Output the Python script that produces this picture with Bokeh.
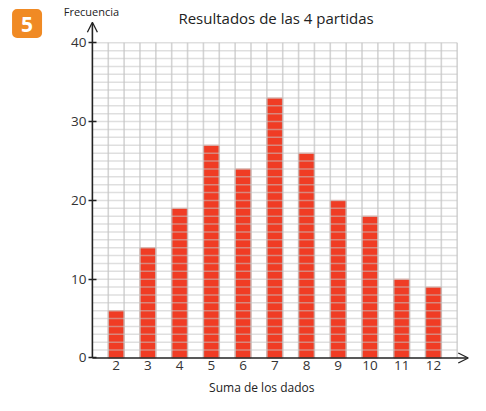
from bokeh.plotting import figure
from bokeh.embed import file_html
from bokeh.resources import INLINE
from bokeh.models import (LinearAxis, FixedTicker, Range1d, Arrow, OpenHead)
from bokeh.core.properties import value

# ---- data ----
sums = ["2", "3", "4", "5", "6", "7", "8", "9", "10", "11", "12"]
freq = [6, 14, 19, 27, 24, 33, 26, 20, 18, 10, 9]
y_ticks = [0, 10, 20, 30, 40]
title_text = "Resultados de las 4 partidas"
x_title = "Suma de los dados"
y_title = "Frecuencia"
badge = "5"

FONT = "Open Sans"
W, H = 470, 395

p = figure(width=W, height=H, output_backend="svg", toolbar_location=None,
           x_range=Range1d(-2.897, 11.92), y_range=Range1d(-4.76, 45.37),
           min_border=0, x_axis_type=None, y_axis_type=None)
p.outline_line_color = None
p.xgrid.visible = False
p.ygrid.visible = False
p.background_fill_color = "white"

n = len(sums)
xs = [0.75 + i for i in range(n)]
gx_end = n + 0.5
gy_end = 40

# bars
p.vbar(x=xs, top=freq, bottom=0, width=0.5, fill_color="#f03c24",
       line_color="#e89a8c", line_width=1)

# grid over bars
vx = [0.5 * k for k in range(1, int(gx_end * 2) + 1)]
p.segment(x0=vx, y0=[0] * len(vx), x1=vx, y1=[gy_end] * len(vx),
          line_color="#bdbdbd", line_alpha=0.65, line_width=1.6)
hy = list(range(1, gy_end + 1))
p.segment(x0=[0] * len(hy), y0=hy, x1=[gx_end] * len(hy), y1=hy,
          line_color="#c4c4c4", line_alpha=0.55, line_width=1.5)

# axes
xaxis = LinearAxis(fixed_location=0)
xaxis.ticker = FixedTicker(ticks=xs)
xaxis.major_label_overrides = {x: s for x, s in zip(xs, sums)}
xaxis.major_tick_in = 0
xaxis.major_tick_out = 0
xaxis.minor_tick_out = 0
xaxis.minor_tick_in = 0
xaxis.axis_line_color = None
xaxis.major_label_text_font = FONT
xaxis.major_label_text_font_size = "13.5px"
xaxis.major_label_text_color = "#333333"
xaxis.major_label_standoff = 3
p.add_layout(xaxis, "below")

yaxis = LinearAxis(fixed_location=0)
yaxis.ticker = FixedTicker(ticks=y_ticks)
yaxis.major_tick_in = 4
yaxis.major_tick_out = 4
yaxis.major_tick_line_color = "#222222"
yaxis.major_tick_line_width = 1.3
yaxis.minor_tick_out = 0
yaxis.minor_tick_in = 0
yaxis.axis_line_color = None
yaxis.major_label_text_font = FONT
yaxis.major_label_text_font_size = "13.5px"
yaxis.major_label_text_color = "#333333"
yaxis.major_label_standoff = 2
p.add_layout(yaxis, "left")

# axis lines with arrows
p.add_layout(Arrow(end=OpenHead(size=10, line_color="#222222", line_width=1.3),
                   x_start=0, y_start=0, x_end=11.85, y_end=0,
                   line_color="#222222", line_width=1.6))
p.add_layout(Arrow(end=OpenHead(size=10, line_color="#222222", line_width=1.3),
                   x_start=0, y_start=0, x_end=0, y_end=42.6,
                   line_color="#222222", line_width=1.6))

# texts
p.text(x=[5.79], y=[43.17], text=[title_text], text_font=value(FONT),
       text_font_size="15px", text_color="#222222",
       text_align="center", text_baseline="middle")
p.text(x=[5.34], y=[-3.7], text=[x_title], text_font=value(FONT),
       text_font_size="12px", text_color="#222222",
       text_align="center", text_baseline="middle")
p.text(x=[-0.03], y=[43.95], text=[y_title], text_font=value(FONT),
       text_font_size="11px", text_color="#222222",
       text_align="center", text_baseline="middle")

# badge
p.rect(x=[-2.06], y=[42.44], width=30, height=29, width_units="screen",
       height_units="screen", fill_color="#f08a24", line_color=None,
       border_radius=5)
p.text(x=[-2.06], y=[42.3], text=[badge], text_font=value(FONT),
       text_font_size="21px", text_font_style="bold", text_color="white",
       text_align="center", text_baseline="middle")

open("out.html", "w").write(file_html(p, INLINE))
